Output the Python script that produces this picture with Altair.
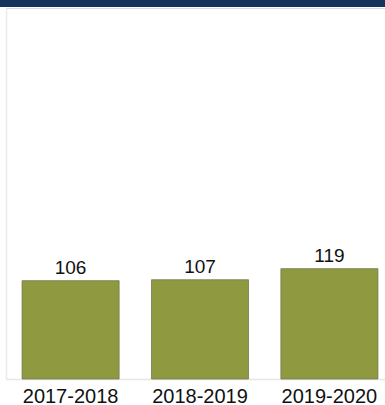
import altair as alt
import pandas as pd

seasons = ["2017-2018", "2018-2019", "2019-2020"]
values = [106, 107, 119]

df = pd.DataFrame({"season": seasons, "value": values})

W, H = 379, 371

base = alt.Chart(df).encode(
    x=alt.X("season:N", sort=seasons,
            scale=alt.Scale(range=[0, 388], paddingInner=0.25, paddingOuter=0.124),
            axis=alt.Axis(title=None, labelAngle=0, labelFontSize=20, labelColor="#111111",
                          labelFont="Liberation Sans", ticks=False, labelPadding=7,
                          domainColor="#e6e6e6", domainWidth=1.5)),
    y=alt.Y("value:Q", scale=alt.Scale(domain=[0, 400], nice=False),
            axis=alt.Axis(title=None, labels=False, ticks=False, grid=False,
                          domainColor="#ececec", domainWidth=1.5)),
)

bars = base.mark_bar(color="#8f9a40", stroke="#75794f", strokeWidth=0.8)
labels = base.mark_text(dy=-13, fontSize=19, font="Liberation Sans", color="#111111").encode(
    text="value:Q")

band = alt.Chart(df).mark_rect(color="#17345c").encode(
    x=alt.value(-6), x2=alt.value(W + 10), y=alt.value(-8), y2=alt.value(-1))

chart = alt.layer(band, bars, labels).properties(
    width=W, height=H,
    padding={"left": 6, "top": 8, "right": 0, "bottom": 26},
    autosize=alt.AutoSizeParams(type="none"),
).configure_view(stroke=None).configure(background="white")

chart.save("out.html", embed_options={"renderer": "svg", "actions": False})
